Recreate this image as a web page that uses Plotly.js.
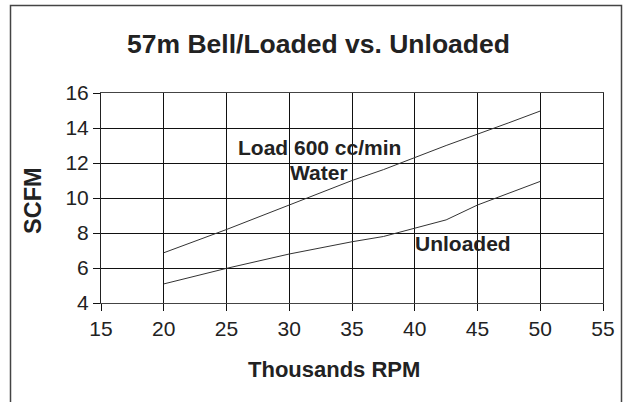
<!DOCTYPE html>
<html>
<head>
<meta charset="utf-8">
<script src="https://cdn.plot.ly/plotly-3.0.1.min.js"></script>
<style>html,body{margin:0;padding:0;background:#fff;}</style>
</head>
<body>
<div id="chart" style="width:627px;height:402px;"></div>
<script>
// Data
const rpmLoaded = [20, 25, 30, 35, 37.5, 42.5, 47.5, 50];
const scfmLoaded = [6.87, 8.2, 9.6, 11.0, 11.62, 13.0, 14.3, 14.97];
const rpmUnloaded = [20, 25, 30, 35, 37.5, 42.5, 45, 50];
const scfmUnloaded = [5.09, 5.98, 6.8, 7.5, 7.8, 8.75, 9.6, 10.95];
const xTicks = [15, 20, 25, 30, 35, 40, 45, 50, 55];
const yTicks = [4, 6, 8, 10, 12, 14, 16];

const sans = '"Liberation Sans", Arial, Helvetica, sans-serif';

const traces = [
  {x: rpmLoaded, y: scfmLoaded, type: 'scatter', mode: 'lines', name: 'Load 600 cc/min Water',
   line: {color: '#333', width: 1}, showlegend: false, hoverinfo: 'x+y'},
  {x: rpmUnloaded, y: scfmUnloaded, type: 'scatter', mode: 'lines', name: 'Unloaded',
   line: {color: '#333', width: 1}, showlegend: false, hoverinfo: 'x+y'}
];

const layout = {
  width: 627, height: 402,
  paper_bgcolor: '#fff', plot_bgcolor: '#fff',
  margin: {l: 101, r: 24, t: 93, b: 99, pad: 0},
  showlegend: false,
  title: {text: '57m Bell/Loaded vs. Unloaded', font: {family: sans, size: 26.5, color: '#222', weight: 'bold'},
          x: 0.508, xanchor: 'center', xref: 'container', y: 1 - 44/402, yanchor: 'middle', yref: 'container'},
  xaxis: {range: [15, 55], tickvals: xTicks, ticktext: xTicks.map(String),
          showgrid: true, gridcolor: '#111', gridwidth: 1, zeroline: false,
          showline: true, linecolor: '#444', linewidth: 1, mirror: true,
          ticks: 'outside', ticklen: 7, tickcolor: '#111', tickwidth: 1,
          tickfont: {family: sans, size: 21, color: '#222'}, fixedrange: true},
  yaxis: {range: [4, 16], tickvals: yTicks, ticktext: yTicks.map(String),
          showgrid: true, gridcolor: '#111', gridwidth: 1, zeroline: false,
          showline: true, linecolor: '#222', linewidth: 1, mirror: true,
          ticks: 'outside', ticklen: 7, tickcolor: '#111', tickwidth: 1,
          tickfont: {family: sans, size: 21, color: '#222'}, fixedrange: true},
  annotations: [
    {text: 'Thousands RPM', xref: 'paper', yref: 'paper', x: (334-101)/502, y: (303-369)/210,
     xanchor: 'center', yanchor: 'middle', showarrow: false,
     font: {family: sans, size: 22, color: '#222', weight: 'bold'}},
    {text: 'SCFM', xref: 'paper', yref: 'paper', x: (33-101)/502, y: (303-201)/210,
     xanchor: 'center', yanchor: 'middle', showarrow: false, textangle: -90,
     font: {family: sans, size: 23.5, color: '#222', weight: 'bold'}},
    {text: 'Load 600 cc/min', xref: 'x', yref: 'y', x: 32.4, y: 12.9,
     xanchor: 'center', yanchor: 'middle', showarrow: false,
     font: {family: sans, size: 21, color: '#222', weight: 'bold'}},
    {text: 'Water', xref: 'x', yref: 'y', x: 32.4, y: 11.45,
     xanchor: 'center', yanchor: 'middle', showarrow: false,
     font: {family: sans, size: 21, color: '#222', weight: 'bold'}},
    {text: 'Unloaded', xref: 'x', yref: 'y', x: 43.87, y: 7.41,
     xanchor: 'center', yanchor: 'middle', showarrow: false,
     font: {family: sans, size: 21, color: '#222', weight: 'bold'}}
  ],
  shapes: [
    {type: 'rect', xref: 'paper', yref: 'paper',
     x0: (10.5-101)/502, x1: (621.5-101)/502, y0: (303-420)/210, y1: (303-5.5)/210,
     line: {color: '#444', width: 1.5}, fillcolor: 'rgba(0,0,0,0)', layer: 'below'}
  ]
};

Plotly.newPlot('chart', traces, layout, {staticPlot: true, displayModeBar: false});
</script>
</body>
</html>
